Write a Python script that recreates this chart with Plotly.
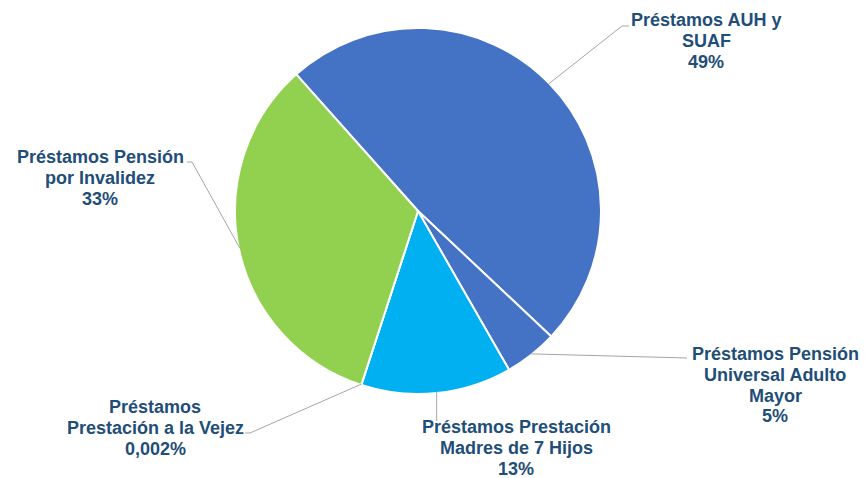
import math
import plotly.graph_objects as go

labels = [
    "Préstamos AUH y SUAF",
    "Préstamos Pensión Universal Adulto Mayor",
    "Préstamos Prestación Madres de 7 Hijos",
    "Préstamos Prestación a la Vejez",
    "Préstamos Pensión por Invalidez",
]
values = [48.6, 4.7, 13.3, 0.002, 33.4]
label_lines = [
    ["Préstamos AUH y", "SUAF", "49%"],
    ["Préstamos Pensión", "Universal Adulto", "Mayor", "5%"],
    ["Préstamos Prestación", "Madres de 7 Hijos", "13%"],
    ["Préstamos", "Prestación a la Vejez", "0,002%"],
    ["Préstamos Pensión", "por Invalidez", "33%"],
]
colors = ["#4472C4", "#4472C4", "#00B0F0", "#FFC000", "#92D050"]

W, H = 865, 478
CX, CY, R = 418, 211, 183
ROT = -41.7
LINE_H = 20.8

# label layout: centre x and first-line centre y (pixels)
label_pos = [(706, 20), (775, 354), (516, 427), (155, 407), (100, 157)]
elbows = [[(622, 26), (629, 26)],
          [(687, 358)],
          [(None, 421)],
          [(250, 433), (245, 433)],
          [(192, 162), (187, 162)]]

def px(x):
    return x / W

def py(y):
    return 1 - y / H

fig = go.Figure(go.Pie(
    labels=labels, values=values, sort=False, direction="clockwise",
    rotation=ROT, textinfo="none", hoverinfo="label+percent",
    marker=dict(colors=colors, line=dict(color="white", width=2)),
    domain=dict(x=[px(CX - R), px(CX + R)], y=[py(CY + R), py(CY - R)]),
    showlegend=False,
))

total = sum(values)
cum = 0
shapes = []
annotations = []
for i, v in enumerate(values):
    mid = ROT + 360 * (cum + v / 2) / total
    cum += v
    a = math.radians(mid)
    sx = CX + (R - 1) * math.sin(a)
    sy = CY - (R - 1) * math.cos(a)
    pts = [(sx, sy)]
    for ex, ey in elbows[i]:
        pts.append((sx if ex is None else ex, ey))
    path = "M " + " L ".join(f"{px(x):.5f},{py(y):.5f}" for x, y in pts)
    shapes.append(dict(type="path", path=path, xref="paper", yref="paper",
                       line=dict(color="#A6A6A6", width=1)))
    lx, ly = label_pos[i]
    for j, line in enumerate(label_lines[i]):
        annotations.append(dict(x=px(lx), y=py(ly + j * LINE_H), xref="paper", yref="paper",
                                text="<b>" + line + "</b>", showarrow=False,
                                align="center", xanchor="center", yanchor="middle",
                                font=dict(family="Liberation Sans, Arial", size=18,
                                          color="#1F4E79")))

fig.update_layout(
    width=W, height=H, margin=dict(l=0, r=0, t=0, b=0),
    paper_bgcolor="white", plot_bgcolor="white",
    shapes=shapes, annotations=annotations,
)
fig.write_html("out.html", config={"displayModeBar": False},
               post_script="document.body.style.margin='0';document.body.style.padding='0';")
